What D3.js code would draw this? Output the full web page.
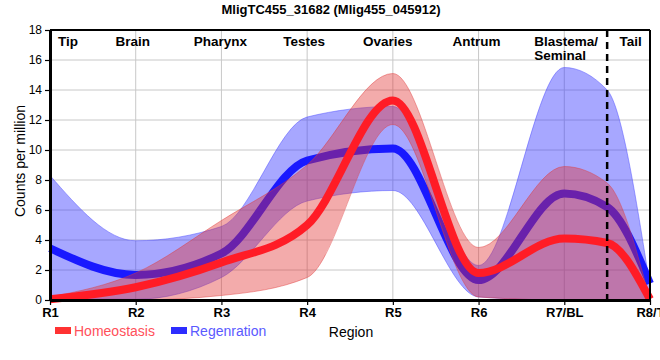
<!DOCTYPE html>
<html>
<head>
<meta charset="utf-8">
<script src="https://cdn.jsdelivr.net/npm/d3@7/dist/d3.min.js"></script>
<style>
  html, body { margin: 0; padding: 0; background: #fff; }
  svg { display: block; }
  text { font-family: "Liberation Sans Narrow", "Arial Narrow", "Liberation Sans", Arial, sans-serif; }
</style>
</head>
<body>
<svg id="chart" width="660" height="360"></svg>
<script>
// ---- data ----
const title = "MligTC455_31682 (Mlig455_045912)";
const tickLabels = ["R1", "R2", "R3", "R4", "R5", "R6", "R7/BL", "R8/T"];
const regionNames = ["Tip", "Brain", "Pharynx", "Testes", "Ovaries", "Antrum", "Blastema/\nSeminal", "Tail"];
// sample positions along the body axis (1 = R1 ... 8 = R8/T, 7.5 = tail boundary)
const positions = [1, 2, 3, 4, 5, 6, 7, 7.5, 8];
const homeoMean  = [0.05, 0.85, 2.5, 5.0, 13.3, 1.8, 4.1, 3.8, 0.05];
const homeoUpper = [0.2, 1.8, 5.3, 9.0, 15.1, 3.5, 8.9, 7.8, 0.0];
const homeoLower = [0.0, 0.0, 0.3, 1.5, 11.7, 0.2, 0.0, 0.0, 0.0];
const regenMean  = [3.45, 1.67, 3.1, 9.3, 10.1, 1.33, 7.1, 6.2, 1.1];
const regenUpper = [8.3, 3.95, 4.9, 12.2, 12.9, 2.3, 15.5, 14.0, 0.9];
const regenLower = [0.1, 0.05, 1.5, 6.6, 7.3, 0.2, 0.0, 0.0, 0.0];
const yTicks = [0, 2, 4, 6, 8, 10, 12, 14, 16, 18];
const tailBoundary = 7.5;
const seriesNames = ["Homeostasis", "Regenration"];

// ---- layout ----
const svg = d3.select("#chart");
const L = 50, R = 650, T = 30, B = 300;
const x = d3.scaleLinear().domain([1, 8]).range([L, R]);
const y = d3.scaleLinear().domain([0, 18]).range([B, T]);

// grid
const grid = svg.append("g");
grid.selectAll("line.h").data(yTicks.filter(v => v > 0 && v < 18)).join("line")
  .attr("x1", L).attr("x2", R).attr("y1", d => y(d)).attr("y2", d => y(d))
  .attr("stroke", "#c8c8c8").attr("stroke-width", 1);
grid.selectAll("line.v").data(d3.range(2, 8)).join("line")
  .attr("x1", d => x(d)).attr("x2", d => x(d)).attr("y1", T).attr("y2", B)
  .attr("stroke", "#c8c8c8").attr("stroke-width", 1);

const curve = d3.curveMonotoneX;
function band(upper, lower) {
  return d3.area().curve(curve)
    .x((d, i) => x(positions[i]))
    .y0((d, i) => y(lower[i]))
    .y1((d, i) => y(upper[i]))(positions);
}
function line(vals) {
  return d3.line().curve(curve)
    .x((d, i) => x(positions[i]))
    .y((d, i) => y(vals[i]))(positions);
}

// regeneration (blue) band + line
svg.append("path").attr("d", band(regenUpper, regenLower))
  .attr("fill", "rgb(50,50,255)").attr("fill-opacity", 0.43)
  .attr("stroke", "rgb(80,80,255)").attr("stroke-opacity", 0.5).attr("stroke-width", 1);
svg.append("path").attr("d", line(regenMean))
  .attr("fill", "none").attr("stroke", "rgb(25,25,255)").attr("stroke-width", 8);

// homeostasis (red) band + line
svg.append("path").attr("d", band(homeoUpper, homeoLower))
  .attr("fill", "rgb(225,45,45)").attr("fill-opacity", 0.4)
  .attr("stroke", "rgb(225,60,60)").attr("stroke-opacity", 0.45).attr("stroke-width", 1);
svg.append("path").attr("d", line(homeoMean))
  .attr("fill", "none").attr("stroke", "rgb(255,28,38)").attr("stroke-width", 8);

// tail boundary dashed line
svg.append("line")
  .attr("x1", x(tailBoundary)).attr("x2", x(tailBoundary)).attr("y1", T).attr("y2", B + 6)
  .attr("stroke", "#000").attr("stroke-width", 2.5).attr("stroke-dasharray", "7,5");

// frame
svg.append("line").attr("x1", L).attr("x2", R).attr("y1", T).attr("y2", T)
  .attr("stroke", "#000").attr("stroke-width", 2);
svg.append("line").attr("x1", R).attr("x2", R).attr("y1", T).attr("y2", B)
  .attr("stroke", "#000").attr("stroke-width", 2);

// axes
const yAxis = svg.append("g").attr("transform", `translate(${L},0)`)
  .call(d3.axisLeft(y).tickValues(yTicks).tickSize(5).tickPadding(3).tickSizeOuter(0));
yAxis.select(".domain").attr("stroke-width", 3);
yAxis.selectAll(".tick line").attr("stroke-width", 1.2);
yAxis.selectAll("text").attr("font-size", 12).attr("fill", "#000");

const xAxis = svg.append("g").attr("transform", `translate(0,${B})`)
  .call(d3.axisBottom(x).tickValues(d3.range(1, 9)).tickFormat(d => tickLabels[d - 1])
    .tickSize(5).tickPadding(3).tickSizeOuter(0));
xAxis.select(".domain").attr("stroke-width", 3);
xAxis.selectAll(".tick line").attr("stroke-width", 1.2);
xAxis.selectAll("text").attr("font-size", 13).attr("font-weight", "bold").attr("fill", "#000");

// title
svg.append("text").attr("x", 331).attr("y", 14).attr("text-anchor", "middle")
  .attr("font-size", 13).attr("font-weight", "bold").text(title);

// y-axis title
svg.append("text").attr("transform", "translate(25,161) rotate(-90)")
  .attr("text-anchor", "middle").attr("font-size", 14).text("Counts per million");

// region labels
const labelX = [x(1) + 18, x(2) - 3, x(3) - 1, x(4) - 3, x(5) - 5, x(6) - 2, x(7) - 30, (x(tailBoundary) + x(8)) / 2 + 2];
regionNames.forEach((name, i) => {
  const parts = name.split("\n");
  parts.forEach((p, j) => {
    svg.append("text").attr("font-size", 13.5).attr("font-weight", "bold")
      .attr("text-anchor", parts.length > 1 ? "start" : "middle")
      .attr("x", labelX[i]).attr("y", 46 + j * 14).text(p);
  });
});

// legend
const legendColors = [["rgb(255,50,50)", "rgb(255,80,90)"], ["rgb(45,45,255)", "rgb(90,90,255)"]];
const legendX = [55, 171];
seriesNames.forEach((n, i) => {
  svg.append("rect").attr("x", legendX[i]).attr("y", 327).attr("width", 16).attr("height", 7)
    .attr("fill", legendColors[i][0]);
  svg.append("text").attr("x", legendX[i] + 19).attr("y", 336).attr("font-size", 14)
    .attr("fill", legendColors[i][1]).text(n);
});
svg.append("text").attr("x", 351).attr("y", 337).attr("text-anchor", "middle")
  .attr("font-size", 14).attr("fill", "#000").text("Region");
</script>
</body>
</html>
